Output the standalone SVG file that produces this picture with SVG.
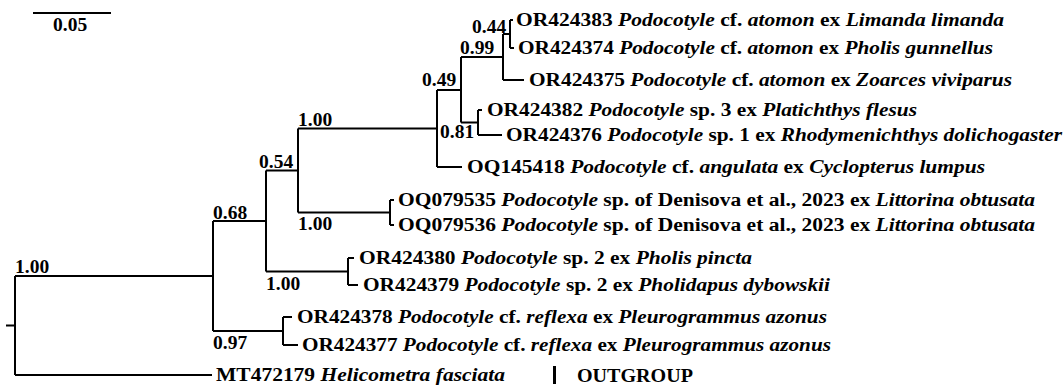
<svg xmlns="http://www.w3.org/2000/svg" width="1064" height="390" viewBox="0 0 1064 390">
<style>
text{font-family:"Liberation Serif","Times New Roman",serif;font-weight:bold;fill:#000}
.t{font-size:18.5px}
.l{font-size:19.5px}
.i{font-style:italic}
.br{fill:none;stroke:#000;stroke-width:2}
</style>
<rect width="1064" height="390" fill="#fff"/>
<g id="scale">
<path class="br" d="M33 13H111"/>
<text class="l" x="53" y="31">0.05</text>
</g>
<g id="connectors">
<path class="br" d="M6 325.5H15M15 276V375M15 276H213M15 375H212"/>
<path class="br" d="M213 221V331M213 221H266M213 331H283"/>
<path class="br" d="M283 317V345M283 317H292M283 345H298"/>
<path class="br" d="M266 170.5V271.5M266 170.5H298M266 271.5H348"/>
<path class="br" d="M348 258V285M348 258H354M348 285H358"/>
<path class="br" d="M298 128.5V212.5M298 128.5H437M298 212.5H390"/>
<path class="br" d="M390 200V225M390 200H394M390 225H394"/>
<path class="br" d="M437 90V167M437 90H461M437 167H462"/>
<path class="br" d="M461 57V122.5M461 57H503M461 122.5H478"/>
<path class="br" d="M478 110V135M478 110H482M478 135H502"/>
<path class="br" d="M503 34V80M503 34H510M503 80H524"/>
<path class="br" d="M510 20V48M510 20H513M510 48H514"/>
</g>
<g id="support">
<text class="l" x="15" y="273">1.00</text>
<text class="l" x="213" y="219">0.68</text>
<text class="l" x="213" y="349">0.97</text>
<text class="l" x="259" y="168">0.54</text>
<text class="l" x="266" y="290">1.00</text>
<text class="l" x="298" y="126">1.00</text>
<text class="l" x="298" y="230">1.00</text>
<text class="l" x="422" y="86">0.49</text>
<text class="l" x="460" y="54">0.99</text>
<text class="l" x="440" y="138">0.81</text>
<text class="l" x="472" y="33">0.44</text>
</g>
<g id="tip-OR424383"><text class="t" x="516" y="26" textLength="488" lengthAdjust="spacingAndGlyphs">OR424383 <tspan class="i">Podocotyle</tspan> cf. <tspan class="i">atomon</tspan> ex <tspan class="i">Limanda limanda</tspan></text></g>
<g id="tip-OR424374"><text class="t" x="518" y="54" textLength="475" lengthAdjust="spacingAndGlyphs">OR424374 <tspan class="i">Podocotyle</tspan> cf. <tspan class="i">atomon</tspan> ex <tspan class="i">Pholis gunnellus</tspan></text></g>
<g id="tip-OR424375"><text class="t" x="529" y="86" textLength="483" lengthAdjust="spacingAndGlyphs">OR424375 <tspan class="i">Podocotyle</tspan> cf. <tspan class="i">atomon</tspan> ex <tspan class="i">Zoarces viviparus</tspan></text></g>
<g id="tip-OR424382"><text class="t" x="487" y="116" textLength="430" lengthAdjust="spacingAndGlyphs">OR424382 <tspan class="i">Podocotyle</tspan> sp. 3 ex <tspan class="i">Platichthys flesus</tspan></text></g>
<g id="tip-OR424376"><text class="t" x="506" y="141" textLength="556" lengthAdjust="spacingAndGlyphs">OR424376 <tspan class="i">Podocotyle</tspan> sp. 1 ex <tspan class="i">Rhodymenichthys dolichogaster</tspan></text></g>
<g id="tip-OQ145418"><text class="t" x="467" y="173" textLength="518" lengthAdjust="spacingAndGlyphs">OQ145418 <tspan class="i">Podocotyle</tspan> cf. <tspan class="i">angulata</tspan> ex <tspan class="i">Cyclopterus lumpus</tspan></text></g>
<g id="tip-OQ079535"><text class="t" x="398" y="206" textLength="637" lengthAdjust="spacingAndGlyphs">OQ079535 <tspan class="i">Podocotyle</tspan> sp. of Denisova et al., 2023 ex <tspan class="i">Littorina obtusata</tspan></text></g>
<g id="tip-OQ079536"><text class="t" x="398" y="231" textLength="637" lengthAdjust="spacingAndGlyphs">OQ079536 <tspan class="i">Podocotyle</tspan> sp. of Denisova et al., 2023 ex <tspan class="i">Littorina obtusata</tspan></text></g>
<g id="tip-OR424380"><text class="t" x="359" y="264" textLength="393" lengthAdjust="spacingAndGlyphs">OR424380 <tspan class="i">Podocotyle</tspan> sp. 2 ex <tspan class="i">Pholis pincta</tspan></text></g>
<g id="tip-OR424379"><text class="t" x="363" y="291" textLength="467" lengthAdjust="spacingAndGlyphs">OR424379 <tspan class="i">Podocotyle</tspan> sp. 2 ex <tspan class="i">Pholidapus dybowskii</tspan></text></g>
<g id="tip-OR424378"><text class="t" x="297" y="323" textLength="530" lengthAdjust="spacingAndGlyphs">OR424378 <tspan class="i">Podocotyle</tspan> cf. <tspan class="i">reflexa</tspan> ex <tspan class="i">Pleurogrammus azonus</tspan></text></g>
<g id="tip-OR424377"><text class="t" x="302" y="351" textLength="529" lengthAdjust="spacingAndGlyphs">OR424377 <tspan class="i">Podocotyle</tspan> cf. <tspan class="i">reflexa</tspan> ex <tspan class="i">Pleurogrammus azonus</tspan></text></g>
<g id="tip-MT472179"><text class="t" x="216" y="381" textLength="289" lengthAdjust="spacingAndGlyphs">MT472179 <tspan class="i">Helicometra fasciata</tspan></text></g>
<g id="outgroup">
<rect x="553" y="366" width="3" height="18" fill="#000"/>
<text class="t" x="577" y="382" textLength="116" lengthAdjust="spacingAndGlyphs">OUTGROUP</text>
</g>
</svg>
